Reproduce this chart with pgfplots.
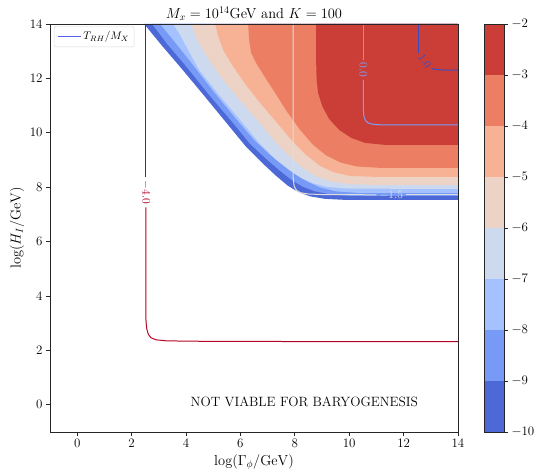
\RequirePackage{fix-cm}
\documentclass[border=0pt]{standalone}
\usepackage{fontspec}
\usepackage{pgfplots}
\pgfplotsset{compat=1.18}
\definecolor{c1}{RGB}{77,104,215}
\definecolor{c2}{RGB}{119,154,247}
\definecolor{c3}{RGB}{163,194,255}
\definecolor{c4}{RGB}{204,217,238}
\definecolor{c5}{RGB}{236,211,197}
\definecolor{c6}{RGB}{247,177,148}
\definecolor{c7}{RGB}{236,127,99}
\definecolor{c8}{RGB}{203,62,56}
\definecolor{lm4}{RGB}{180,4,38}
\definecolor{lm15}{RGB}{221,221,221}
\definecolor{l0}{RGB}{123,158,248}
\definecolor{l1}{RGB}{59,76,192}
\definecolor{legblue}{RGB}{85,95,235}
\begin{document}
\begin{tikzpicture}
\path[use as bounding box] (-50bp,-40bp) rectangle (506bp,432bp);
\begin{axis}[at={(0,0)}, anchor=south west, scale only axis,
  width=408bp, height=408bp,
  xmin=-1, xmax=14, ymin=-1, ymax=14,
  xtick={0,2,...,14}, ytick={0,2,...,14},
  tick align=outside, tick pos=left, major tick length=4bp,
  axis on top, clip mode=individual,
  axis line style={black!85, line width=0.8bp},
  tick style={black!85, line width=0.8bp},
  tick label style={font=\fontsize{13}{15}\selectfont},
  legend style={at={(0.01,0.995)}, anchor=north west, draw=black!15, rounded corners=2bp, fill=white, font=\fontsize{11}{13}\selectfont, inner xsep=3bp, inner ysep=3.5bp},
  legend image code/.code={\draw[#1] (0bp,0bp) -- (23bp,0bp);},
]
% filled contour bands (log Y_X^max/g_X)
\addplot[fill=c1, draw=none, forget plot] coordinates {(2.462,14) (3.124,13.194) (3.785,12.422) (4.704,11.319) (5.549,10.290) (6.211,9.482) (6.799,8.894) (7.313,8.416) (7.754,8.048) (8.122,7.828) (8.563,7.663) (9.114,7.571) (9.849,7.534) (14,7.534) (14,14)} -- cycle;
\addplot[fill=c2, draw=none, forget plot] coordinates {(2.756,14) (3.308,13.267) (3.932,12.532) (4.851,11.393) (5.696,10.401) (6.358,9.592) (6.946,9.041) (7.460,8.600) (7.901,8.251) (8.306,8.012) (8.747,7.846) (9.298,7.736) (10.033,7.681) (14,7.681) (14,14)} -- cycle;
\addplot[fill=c3, draw=none, forget plot] coordinates {(3.050,14) (3.528,13.414) (4.116,12.679) (4.998,11.540) (5.843,10.511) (6.505,9.739) (7.093,9.188) (7.607,8.783) (8.048,8.453) (8.489,8.195) (8.930,7.993) (9.518,7.846) (10.327,7.791) (14,7.791) (14,14)} -- cycle;
\addplot[fill=c4, draw=none, forget plot] coordinates {(3.528,14) (3.785,13.598) (4.116,12.973) (4.484,12.312) (5.182,11.430) (5.990,10.474) (6.689,9.629) (7.277,9.041) (7.791,8.636) (8.232,8.342) (8.673,8.140) (9.188,8.012) (9.960,7.946) (14,7.938) (14,14)} -- cycle;
\addplot[fill=c5, draw=none, forget plot] coordinates {(4.190,14) (4.337,13.598) (4.557,13.157) (4.851,12.679) (5.219,12.128) (5.843,11.356) (6.652,10.437) (7.313,9.629) (7.865,9.077) (8.342,8.673) (8.784,8.398) (9.298,8.214) (9.960,8.115) (10.952,8.085) (14,8.085) (14,14)} -- cycle;
\addplot[fill=c6, draw=none, forget plot] coordinates {(5.072,14) (5.182,13.561) (5.366,13.047) (5.696,12.495) (6.174,11.797) (6.725,11.099) (7.350,10.364) (7.901,9.702) (8.416,9.188) (8.930,8.783) (9.445,8.545) (10.033,8.416) (10.952,8.379) (14,8.379) (14,14)} -- cycle;
\addplot[fill=c7, draw=none, forget plot] coordinates {(6.284,14) (6.321,13.414) (6.395,12.936) (6.578,12.569) (6.872,12.091) (7.277,11.466) (7.718,10.768) (8.195,10.107) (8.673,9.555) (9.151,9.169) (9.665,8.912) (10.253,8.765) (11.136,8.710) (14,8.710) (14,14)} -- cycle;
\addplot[fill=c8, draw=none, forget plot] coordinates {(8.784,14) (8.784,12.679) (8.802,11.944) (8.857,11.466) (9.004,10.989) (9.261,10.511) (9.629,10.107) (10.070,9.813) (10.584,9.629) (11.319,9.555) (14,9.555) (14,14)} -- cycle;
% contour lines of T_RH/M_X
\addplot[lm4, line width=1bp, forget plot] coordinates {(2.525,14) (2.525,8.36)};
\addplot[lm4, line width=1bp, forget plot] coordinates {(2.525,7.26) (2.525,3.5) (2.53,3.05) (2.56,2.78) (2.62,2.58) (2.72,2.46) (2.9,2.39) (3.3,2.35) (5,2.33) (14,2.32)};
\addplot[lm15, line width=1bp, forget plot] coordinates {(7.938,14) (7.938,8.6) (7.945,8.25) (7.98,8.03) (8.06,7.89) (8.2,7.80) (8.5,7.75) (9,7.73) (11.0,7.72)};
\addplot[lm15, line width=1bp, forget plot] coordinates {(12.1,7.72) (14,7.72)};
\addplot[l0, line width=1bp, forget plot] coordinates {(10.52,14) (10.52,12.67)};
\addplot[l0, line width=1bp, forget plot] coordinates {(10.52,11.95) (10.52,10.85) (10.54,10.6) (10.6,10.45) (10.7,10.36) (10.88,10.31) (11.2,10.29) (14,10.29)};
\addplot[l1, line width=1bp, forget plot] coordinates {(12.54,14) (12.54,12.95)};
\addplot[l1, line width=1bp, forget plot] coordinates {(13.04,12.37) (13.15,12.33) (13.4,12.31) (14,12.30)};
\node[rotate=-90, text=lm4, font=\fontsize{11.5}{13}\selectfont] at (axis cs:2.525,7.81) {$-4.0$};
\node[text=lm15, font=\fontsize{11.5}{13}\selectfont] at (axis cs:11.55,7.70) {$-1.5$};
\node[rotate=-90, text=l0, font=\fontsize{11.5}{13}\selectfont] at (axis cs:10.52,12.31) {$0.0$};
\node[rotate=-55, text=l1, font=\fontsize{11.5}{13}\selectfont, inner sep=0pt] at (axis cs:12.78,12.64) {$1.0$};
\addlegendimage{color=legblue, line width=1.2bp}
\addlegendentry{$T_{RH}/M_X$}
\node[font=\fontsize{13.5}{15}\selectfont] at (axis cs:8.35,0.1) {NOT VIABLE FOR BARYOGENESIS};
\node[anchor=base, font=\fontsize{14.5}{16}\selectfont] at ([yshift=5.5bp]axis description cs:0.5,1) {$M_x = 10^{14}$GeV and $K = 100$};
\node[font=\fontsize{14.5}{16}\selectfont] at ([yshift=-30bp]axis description cs:0.5,0) {$\log(\Gamma_\phi/\mathrm{GeV})$};
\node[rotate=90, font=\fontsize{14.5}{16}\selectfont] at ([xshift=-33bp]axis description cs:0,0.5) {$\log(H_I/\mathrm{GeV})$};
\end{axis}
\begin{axis}[at={(434bp,0)}, anchor=south west, scale only axis,
  width=20bp, height=408bp,
  xmin=0, xmax=1, ymin=-10, ymax=-2,
  xtick=\empty, ytick={-10,-9,...,-2},
  yticklabel pos=right, ytick pos=right,
  tick align=outside, major tick length=4bp,
  axis on top,
  axis line style={black!85, line width=0.8bp},
  tick style={black!85, line width=0.8bp},
  tick label style={font=\fontsize{13}{15}\selectfont},
]
\addplot[fill=c1, draw=none] coordinates {(0,-10) (1,-10) (1,-9) (0,-9)} -- cycle;
\addplot[fill=c2, draw=none] coordinates {(0,-9) (1,-9) (1,-8) (0,-8)} -- cycle;
\addplot[fill=c3, draw=none] coordinates {(0,-8) (1,-8) (1,-7) (0,-7)} -- cycle;
\addplot[fill=c4, draw=none] coordinates {(0,-7) (1,-7) (1,-6) (0,-6)} -- cycle;
\addplot[fill=c5, draw=none] coordinates {(0,-6) (1,-6) (1,-5) (0,-5)} -- cycle;
\addplot[fill=c6, draw=none] coordinates {(0,-5) (1,-5) (1,-4) (0,-4)} -- cycle;
\addplot[fill=c7, draw=none] coordinates {(0,-4) (1,-4) (1,-3) (0,-3)} -- cycle;
\addplot[fill=c8, draw=none] coordinates {(0,-3) (1,-3) (1,-2) (0,-2)} -- cycle;
\node[rotate=90, font=\fontsize{14.5}{16}\selectfont] at ([xshift=42bp]axis description cs:1,0.5) {$\log(Y_X^{max}/g_X)$};
\end{axis}
\end{tikzpicture}
\end{document}
